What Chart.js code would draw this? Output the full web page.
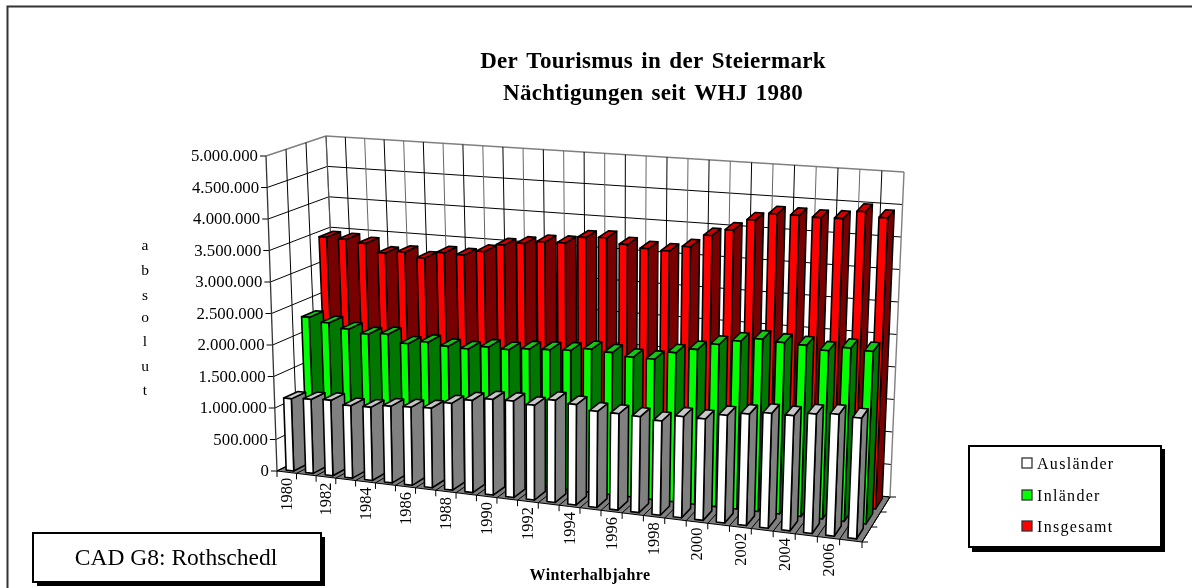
<!DOCTYPE html>
<html lang="de">
<head>
<meta charset="utf-8">
<title>Der Tourismus in der Steiermark</title>
<script src="https://cdn.jsdelivr.net/npm/chart.js@4/dist/chart.umd.js"></script>
<style>html,body{margin:0;padding:0;background:#fff}canvas{display:block}</style>
</head>
<body>
<canvas id="c" width="1192" height="588"></canvas>
<script>
const years = ['1980','1981','1982','1983','1984','1985','1986','1987','1988','1989','1990','1991','1992','1993','1994','1995','1996','1997','1998','1999','2000','2001','2002','2003','2004','2005','2006','2007'];
const auslaender = [1145000,1170000,1190000,1140000,1150000,1200000,1220000,1240000,1350000,1430000,1480000,1490000,1460000,1570000,1540000,1470000,1470000,1460000,1430000,1530000,1530000,1620000,1675000,1720000,1720000,1780000,1810000,1790000];
const inlaender = [2300000,2240000,2170000,2120000,2150000,2030000,2085000,2050000,2040000,2100000,2090000,2130000,2150000,2170000,2220000,2200000,2160000,2160000,2290000,2370000,2480000,2560000,2620000,2600000,2590000,2540000,2610000,2590000];
const insgesamt = [3460000,3450000,3410000,3280000,3320000,3250000,3360000,3350000,3430000,3560000,3610000,3660000,3670000,3780000,3800000,3720000,3680000,3670000,3760000,3960000,4070000,4250000,4370000,4370000,4360000,4370000,4500000,4430000];
const seriesNames = ['Ausländer','Inländer','Insgesamt'];
const faceFront = ['#ffffff','#00ff00','#ff0000'];
const faceSide = ['#808080','#007800','#780000'];
const faceTop = ['#c8c8c8','#14c814','#d00000'];
const titleLines = ['Der Tourismus in der Steiermark','Nächtigungen seit WHJ 1980'];
const yAxisLetters = ['a','b','s','o','l','u','t'];
const xAxisTitle = 'Winterhalbjahre';
const creditText = 'CAD G8: Rothschedl';

const FONT = '"Liberation Serif", serif';
// Screen positions of the eight corners of the 3D box: [bottom/top][front/back][left/right]
const BOX = {
  bfl:[277,471], bfr:[862,542], bbl:[340,440], bbr:[890,497],
  tfl:[266,156], tfr:[876,204], tbl:[326,136], tbr:[904,172]
};
const lerp = (a,b,t)=>a+(b-a)*t;
const persp = u => u/(1.074-0.074*u);
function boxPoint(t,h,d){
  const out=[];
  for(const k of [0,1]){
    const bf=lerp(BOX.bfl[k],BOX.bfr[k],t), bb=lerp(BOX.bbl[k],BOX.bbr[k],t);
    const tf=lerp(BOX.tfl[k],BOX.tfr[k],t), tb=lerp(BOX.tbl[k],BOX.tbr[k],t);
    out.push(lerp(lerp(bf,bb,d),lerp(tf,tb,d),h));
  }
  return out;
}
function project(chart,px,py,d){
  const a=chart.chartArea;
  return boxPoint(persp((px-a.left)/(a.right-a.left)),(a.bottom-py)/(a.bottom-a.top),d);
}
function poly(ctx,pts,fill){
  ctx.beginPath();
  pts.forEach((p,i)=>i?ctx.lineTo(p[0],p[1]):ctx.moveTo(p[0],p[1]));
  ctx.closePath();
  if(fill){ctx.fillStyle=fill;ctx.fill();}
  ctx.stroke();
}
function seg(ctx,a,b){ctx.beginPath();ctx.moveTo(a[0],a[1]);ctx.lineTo(b[0],b[1]);ctx.stroke();}

class Bar3D extends Chart.BarController {
  draw(){
    const chart=this.chart, ctx=chart.ctx, idx=this.index;
    const mid=(2*idx+1)/6, half=0.115;
    ctx.save();
    ctx.strokeStyle='#000';ctx.lineWidth=1.6;ctx.lineJoin='round';
    for(const el of this.getMeta().data){
      const l=el.x-el.width/2, r=el.x+el.width/2, b=el.base, t=el.y;
      const P=(x,y,d)=>project(chart,x,y,d), d0=mid-half, d1=mid+half;
      poly(ctx,[P(r,b,d0),P(r,b,d1),P(r,t,d1),P(r,t,d0)],faceSide[idx]);
      poly(ctx,[P(l,t,d0),P(r,t,d0),P(r,t,d1),P(l,t,d1)],faceTop[idx]);
      poly(ctx,[P(l,b,d0),P(r,b,d0),P(r,t,d0),P(l,t,d0)],faceFront[idx]);
    }
    ctx.restore();
  }
}
Bar3D.id='bar3d';
Bar3D.defaults=Chart.BarController.defaults;
Bar3D.overrides=Chart.BarController.overrides;
Chart.register(Bar3D);

const fmt = v => String(v).replace(/\B(?=(\d{3})+$)/g,'.');

const wallsPlugin = {
  id:'walls',
  beforeDatasetsDraw(chart){
    const ctx=chart.ctx, xs=chart.scales.x, ys=chart.scales.y, a=chart.chartArea;
    ctx.save();
    ctx.lineWidth=1;ctx.strokeStyle='#000';
    // floor
    poly(ctx,[BOX.bfl,BOX.bfr,BOX.bbr,BOX.bbl],'#808080');
    const edges=[];
    for(let i=0;i<=years.length;i++) edges.push(a.left+(a.right-a.left)*i/years.length);
    edges.forEach(x=>{
      seg(ctx,project(chart,x,a.bottom,0),project(chart,x,a.bottom,1));
      const f=project(chart,x,a.bottom,0);
      seg(ctx,f,[f[0],f[1]+6]);
    });
    // horizontal grid on the two walls
    ys.ticks.forEach(tk=>{
      const y=ys.getPixelForValue(tk.value);
      const f=project(chart,a.left,y,0), bl=project(chart,a.left,y,1), br=project(chart,a.right,y,1);
      if(tk.value===ys.max) ctx.strokeStyle='#808080'; else ctx.strokeStyle='#000';
      ctx.lineWidth=tk.value===ys.max?1.4:1;
      seg(ctx,f,bl);seg(ctx,bl,br);
      ctx.strokeStyle='#000';ctx.lineWidth=1;
      seg(ctx,f,[f[0]-6,f[1]]);
    });
    // vertical grid
    edges.forEach((x,i)=>{
      ctx.strokeStyle=(i===edges.length-1)?'#808080':(i%2?'#000':'#666');
      ctx.lineWidth=(i===edges.length-1)?1.4:1;
      seg(ctx,project(chart,x,a.bottom,1),project(chart,x,a.top,1));
    });
    ctx.strokeStyle='#000';ctx.lineWidth=1;
    [1/3,2/3].forEach(d=>seg(ctx,project(chart,a.left,a.bottom,d),project(chart,a.left,a.top,d)));
    ctx.strokeStyle='#333';ctx.lineWidth=1.3;
    seg(ctx,BOX.bfl,BOX.tfl);
    ctx.strokeStyle='#555';ctx.lineWidth=1.2;
    seg(ctx,BOX.bbl,BOX.tbl);
    // depth ticks, right side of the floor
    ctx.strokeStyle='#000';ctx.lineWidth=1;
    [0,1/3,2/3,1].forEach(d=>{
      const p=project(chart,a.right,a.bottom,d);
      seg(ctx,p,[p[0]+6,p[1]]);
    });
    ctx.restore();
  },
  afterDatasetsDraw(chart){
    const ctx=chart.ctx, xs=chart.scales.x, ys=chart.scales.y, a=chart.chartArea;
    ctx.save();
    ctx.fillStyle='#000';
    // frame
    ctx.strokeStyle='#333';ctx.lineWidth=2;
    ctx.beginPath();ctx.moveTo(7.5,588);ctx.lineTo(7.5,6.5);ctx.lineTo(1192,6.5);ctx.stroke();
    // title
    ctx.textAlign='center';ctx.textBaseline='alphabetic';
    ctx.font='bold 23px '+FONT;
    ctx.letterSpacing='0.3px';ctx.wordSpacing='2.2px';
    ctx.fillText(titleLines[0],653,68);
    ctx.fillText(titleLines[1],653,100);
    ctx.letterSpacing='0px';ctx.wordSpacing='0px';
    // value labels
    ctx.font='16.8px '+FONT;ctx.textAlign='right';ctx.textBaseline='middle';
    ys.ticks.forEach(tk=>{
      const f=project(chart,a.left,ys.getPixelForValue(tk.value),0);
      ctx.fillText(fmt(tk.value),f[0]-8,f[1]+1);
    });
    // category labels, every second one
    ctx.font='16.5px '+FONT;
    years.forEach((yr,i)=>{
      if(i%2) return;
      const p=project(chart,xs.getPixelForValue(i),a.bottom,0);
      ctx.save();ctx.translate(p[0]+1,p[1]+5.5);ctx.rotate(-Math.PI/2);
      ctx.textAlign='right';ctx.textBaseline='middle';ctx.fillText(yr,0,0);ctx.restore();
    });
    // vertical axis title
    ctx.font='15.5px '+FONT;ctx.textAlign='center';ctx.textBaseline='middle';
    const ly=[246,271,296,318,342,367,391];
    yAxisLetters.forEach((ch,i)=>ctx.fillText(ch,145,ly[i]));
    // horizontal axis title
    ctx.font='bold 16px '+FONT;ctx.textBaseline='alphabetic';
    ctx.letterSpacing='0.4px';
    ctx.fillText(xAxisTitle,590,580);
    ctx.letterSpacing='0px';
    // credit box
    ctx.fillStyle='#000';ctx.fillRect(37,537,288,49);
    ctx.fillStyle='#fff';ctx.strokeStyle='#000';ctx.lineWidth=2;
    ctx.fillRect(33,533,288,49);ctx.strokeRect(33,533,288,49);
    ctx.fillStyle='#000';ctx.font='23.5px '+FONT;ctx.textAlign='center';
    ctx.fillText(creditText,176,565);
    // legend box
    ctx.fillStyle='#000';ctx.fillRect(972,449,193,103);
    ctx.fillStyle='#fff';ctx.lineWidth=2;
    ctx.fillRect(969,446,192,101);ctx.strokeRect(969,446,192,101);
    const sy=[458,490,521], by=[469,501,532];
    seriesNames.forEach((n,i)=>{
      ctx.fillStyle=faceFront[i];ctx.strokeStyle='#333';ctx.lineWidth=1.3;
      ctx.fillRect(1022,sy[i],10,10);ctx.strokeRect(1022,sy[i],10,10);
      ctx.fillStyle='#000';ctx.font='16px '+FONT;ctx.textAlign='left';ctx.letterSpacing='1.3px';
      ctx.fillText(n,1037,by[i]);ctx.letterSpacing='0px';
    });
    ctx.restore();
  }
};

function mkSet(label,data,i){
  return {label,data,backgroundColor:faceFront[i],borderColor:'#000',borderWidth:1,barPercentage:0.39,categoryPercentage:1,clip:false};
}
new Chart(document.getElementById('c'),{
  type:'bar3d',
  data:{labels:years,datasets:[mkSet(seriesNames[0],auslaender,0),mkSet(seriesNames[1],inlaender,1),mkSet(seriesNames[2],insgesamt,2)]},
  options:{
    responsive:false,animation:false,
    layout:{padding:{left:277,right:330,top:156,bottom:117}},
    plugins:{legend:{display:false},title:{display:false},tooltip:{enabled:false}},
    scales:{
      x:{type:'category',stacked:true,display:false,grid:{display:false}},
      y:{type:'linear',stacked:false,display:false,min:0,max:5000000,ticks:{stepSize:500000},grid:{display:false}}
    }
  },
  plugins:[wallsPlugin]
});
</script>
</body>
</html>
